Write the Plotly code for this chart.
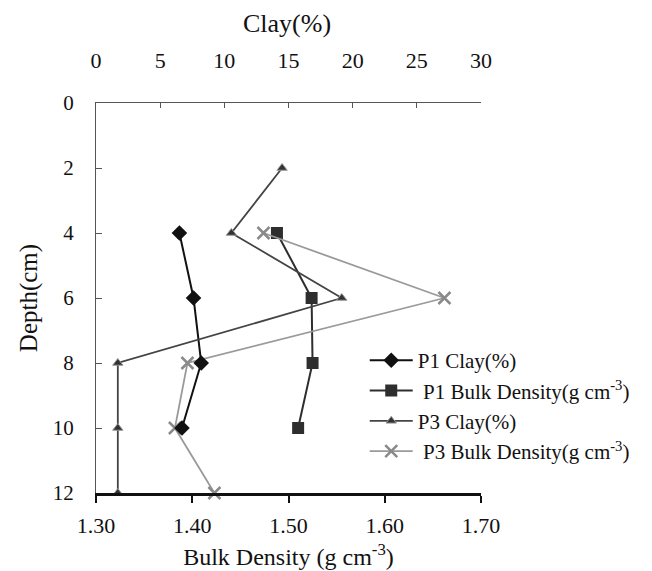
import plotly.graph_objects as go

depth_p1 = [4, 6, 8, 10]
p1_clay = [6.5, 7.6, 8.2, 6.7]
p1_bd = [1.488, 1.524, 1.525, 1.510]

depth_p3_clay = [2, 4, 6, 8, 10, 12]
p3_clay = [14.5, 10.55, 19.15, 1.7, 1.7, 1.7]

depth_p3_bd = [4, 6, 8, 10, 12]
p3_bd = [1.474, 1.662, 1.395, 1.382, 1.423]

bd_ticks = [1.30, 1.40, 1.50, 1.60, 1.70]
clay_ticks = [0, 5, 10, 15, 20, 25, 30]
depth_ticks = [0, 2, 4, 6, 8, 10, 12]

FONT = "Liberation Serif"

fig = go.Figure()
fig.add_trace(go.Scatter(
    x=p1_clay, y=depth_p1, xaxis="x2", yaxis="y", mode="lines+markers",
    name="P1 Clay(%)", legendgroup="a", line=dict(color="#111", width=2),
    marker=dict(symbol="diamond", size=12, color="#111"), cliponaxis=False))
fig.add_trace(go.Scatter(
    x=p1_bd, y=depth_p1, xaxis="x", yaxis="y", mode="lines+markers",
    name=" P1 Bulk Density(g cm<sup>-3</sup>)", legendgroup="b",
    line=dict(color="#2e2e2e", width=2),
    marker=dict(symbol="square", size=12, color="#2e2e2e"), cliponaxis=False))
fig.add_trace(go.Scatter(
    x=p3_clay, y=depth_p3_clay, xaxis="x2", yaxis="y", mode="lines+markers",
    name="P3 Clay(%)", legendgroup="c", line=dict(color="#444", width=1.8),
    marker=dict(symbol="triangle-up", size=9, color="#333",
                line=dict(color="#999", width=1)), cliponaxis=False))
fig.add_trace(go.Scatter(
    x=p3_bd, y=depth_p3_bd, xaxis="x", yaxis="y", mode="lines+markers",
    name=" P3 Bulk Density(g cm<sup>-3</sup>)", legendgroup="d",
    line=dict(color="#9a9a9a", width=1.8),
    marker=dict(symbol="x-thin", size=12, line=dict(color="#8a8a8a", width=2.5)),
    cliponaxis=False))

fig.update_layout(
    width=652, height=571,
    margin=dict(l=96, r=171, t=103, b=78, autoexpand=False),
    paper_bgcolor="white", plot_bgcolor="white",
    font=dict(family=FONT, size=21, color="#111"),
    showlegend=True,
    legend=dict(x=0.698, y=0.392, xanchor="left", yanchor="top",
                font=dict(family=FONT, size=21, color="#111"),
                bgcolor="rgba(0,0,0,0)", tracegroupgap=0, itemwidth=43),
    xaxis=dict(range=[1.3, 1.7], tickvals=bd_ticks,
               ticktext=["%.2f" % v for v in bd_ticks],
               ticks="outside", ticklen=7, tickwidth=2, tickcolor="#111",
               showline=True, linewidth=2.5, linecolor="#111",
               showgrid=False, zeroline=False, automargin=False,
               ticklabelstandoff=4,
               title=dict(text="Bulk Density (g cm<sup>-3</sup>)", standoff=12,
                          font=dict(family=FONT, size=24)),
               tickfont=dict(family=FONT, size=22)),
    xaxis3=dict(range=[1.3, 1.7], tickvals=bd_ticks, overlaying="x", side="bottom",
                anchor="y", ticks="inside", ticklen=7, tickwidth=2, tickcolor="#111",
                showticklabels=False, showline=False, showgrid=False, zeroline=False),
    xaxis2=dict(range=[0, 30], tickvals=clay_ticks, overlaying="x", side="top",
                anchor="y", ticks="inside", ticklen=5, tickwidth=1, tickcolor="#555",
                showline=True, linewidth=1, linecolor="#555", automargin=False,
                showgrid=False, zeroline=False, ticklabelstandoff=25,
                tickfont=dict(family=FONT, size=22)),
    yaxis=dict(range=[12, 0], tickvals=depth_ticks,
               ticks="inside", ticklen=6, tickwidth=1, tickcolor="#555",
               showline=True, linewidth=1, linecolor="#555", automargin=False,
               showgrid=False, zeroline=False, ticklabelstandoff=17,
               title=dict(text="Depth(cm)", standoff=8, font=dict(family=FONT, size=25)),
               tickfont=dict(family=FONT, size=21)),
    annotations=[dict(text="Clay(%)", xref="paper", yref="paper", x=0.497, y=1.2026,
                      xanchor="center", yanchor="middle", showarrow=False,
                      font=dict(family=FONT, size=26, color="#111"))],
)

fig.write_html("out.html", config={"displayModeBar": False},
               post_script="document.body.style.margin='0';")
